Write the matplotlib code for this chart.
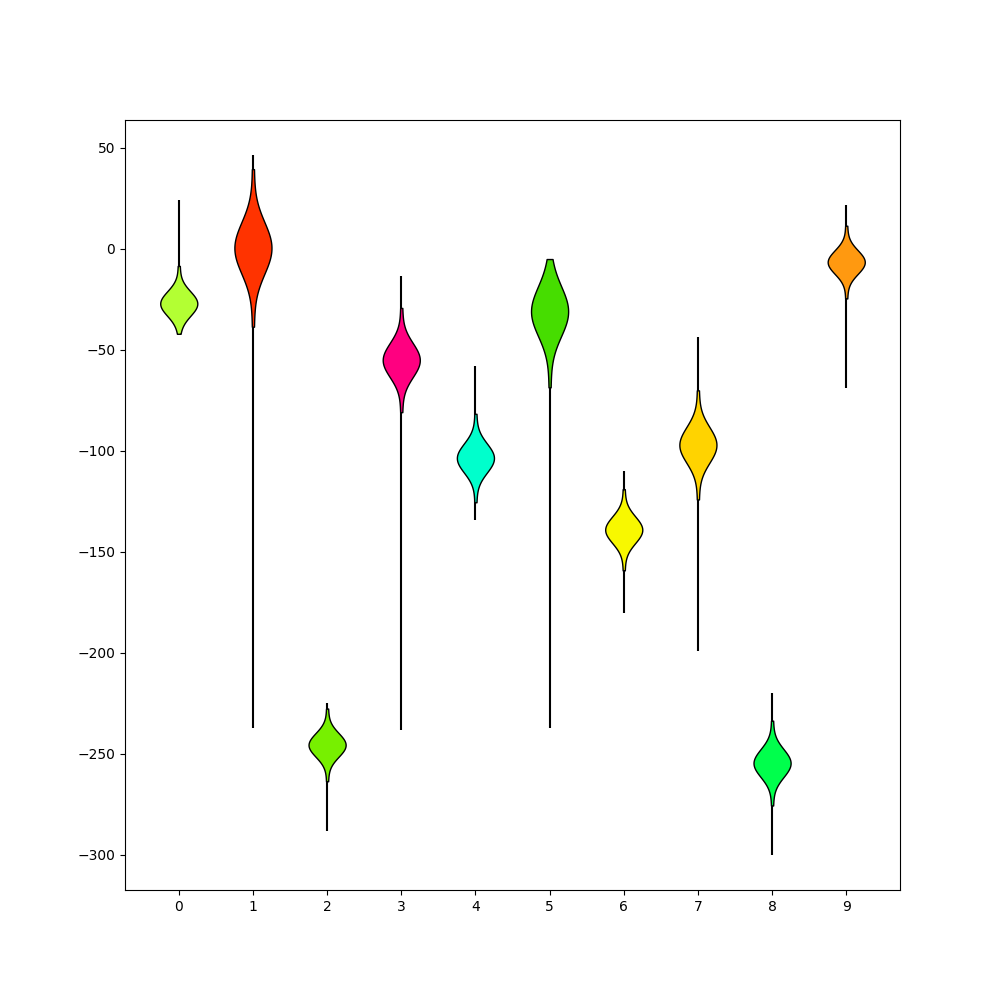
import numpy as np
import matplotlib
matplotlib.use("Agg")
import matplotlib.pyplot as plt

positions = [0, 1, 2, 3, 4, 5, 6, 7, 8, 9]

v0 = [-42.0, -30.7, -29.8, -29.2, -28.9, -28.6, -28.2, -28.0, -27.7, -27.6, -27.3, -27.1,
      -26.9, -26.7, -26.4, -26.3, -26.0, -25.8, -25.4, -25.1, -24.8, -24.2, -23.3, -8.4]
v1 = [-38.5, -7.3, -5.4, -4.2, -3.4, -2.8, -2.1, -1.6, -1.1, -0.7, -0.2, 0.2,
      0.8, 1.2, 1.7, 2.1, 2.6, 3.1, 3.8, 4.4, 5.2, 6.4, 8.3, 39.5]
v2 = [-263.5, -249.1, -248.2, -247.7, -247.3, -247.0, -246.7, -246.5, -246.2, -246.0, -245.8, -245.6,
      -245.4, -245.2, -245.0, -244.8, -244.5, -244.3, -244.0, -243.7, -243.3, -242.8, -241.9, -227.5]
v3 = [-80.8, -60.2, -58.9, -58.1, -57.6, -57.2, -56.7, -56.4, -56.0, -55.8, -55.4, -55.2,
      -54.8, -54.6, -54.2, -54.0, -53.6, -53.3, -52.8, -52.4, -51.9, -51.1, -49.8, -29.2]
v4 = [-125.4, -107.9, -106.8, -106.1, -105.7, -105.3, -105.0, -104.7, -104.4, -104.2, -103.9, -103.6,
      -103.4, -103.1, -102.8, -102.6, -102.3, -102.0, -101.7, -101.3, -100.9, -100.2, -99.1, -81.6]
v5 = [-68.5, -38.5, -36.6, -35.5, -34.8, -34.1, -33.5, -33.0, -32.5, -32.1, -31.6, -31.3,
      -30.7, -30.4, -29.9, -29.5, -29.0, -28.5, -27.9, -27.2, -26.5, -25.4, -23.5, -5.0]
v6 = [-159.1, -143.0, -142.0, -141.4, -141.0, -140.7, -140.3, -140.1, -139.8, -139.6, -139.3, -139.1,
      -138.9, -138.7, -138.4, -138.2, -137.9, -137.7, -137.3, -137.0, -136.6, -136.0, -135.0, -118.9]
v7 = [-124.0, -102.4, -101.1, -100.2, -99.7, -99.3, -98.8, -98.4, -98.1, -97.8, -97.5, -97.2,
      -96.8, -96.5, -96.2, -95.9, -95.6, -95.2, -94.7, -94.3, -93.8, -92.9, -91.6, -70.0]
v8 = [-275.5, -258.7, -257.7, -257.0, -256.6, -256.3, -255.9, -255.6, -255.3, -255.1, -254.9, -254.6,
      -254.4, -254.1, -253.9, -253.7, -253.4, -253.1, -252.7, -252.4, -252.0, -251.3, -250.3, -233.5]
v9 = [-24.5, -10.1, -9.2, -8.7, -8.3, -8.0, -7.7, -7.5, -7.2, -7.0, -6.8, -6.6,
      -6.4, -6.2, -6.0, -5.8, -5.5, -5.3, -5.0, -4.7, -4.3, -3.8, -2.9, 11.5]
datasets = [v0, v1, v2, v3, v4, v5, v6, v7, v8, v9]

# extreme values (thin tails)
upper_ext = [24.0, 46.5, -225.0, -13.5, -58.0, -5.0, -110.0, -43.5, -220.0, 21.8]
lower_ext = [-42.0, -237.0, -288.0, -238.0, -134.0, -237.0, -180.0, -199.0, -300.0, -69.0]

colors = ['#b3ff33', '#ff3300', '#77f000', '#ff0080', '#00ffcc',
          '#46dd00', '#f8f800', '#ffd300', '#00ff4c', '#ff9910']

bandwidths = [5.9, 12.4, 5.7, 8.2, 7.0, 11.9, 6.4, 8.6, 6.7, 5.7]

fig, ax = plt.subplots(figsize=(10, 10), dpi=100)

ax.vlines(positions, lower_ext, upper_ext, colors='black', linewidth=1.5, zorder=0.5)

for pos, data, col, h in zip(positions, datasets, colors, bandwidths):
    parts = ax.violinplot([data], positions=[pos], showextrema=False,
                          bw_method=lambda kde, h=h: h / np.std(kde.dataset, ddof=1))
    for body in parts['bodies']:
        body.set_facecolor(col)
        body.set_edgecolor('black')
        body.set_linewidth(1.0)
        body.set_alpha(1)
        body.set_zorder(1)

ax.set_xticks(positions)
fig.savefig('out.png')
